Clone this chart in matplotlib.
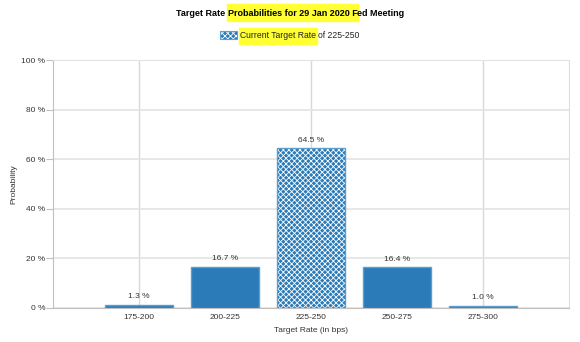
import matplotlib.pyplot as plt
from matplotlib.patches import Rectangle

plt.rcParams['font.family'] = ['Liberation Sans', 'DejaVu Sans']
plt.rcParams['hatch.linewidth'] = 0.6

CATEGORIES = ["175-200", "200-225", "225-250", "250-275", "275-300"]
PROBS = [1.3, 16.7, 64.5, 16.4, 1.0]
CURRENT = "225-250"
Y_TICKS = [0, 20, 40, 60, 80, 100]

BAR_COLOR = "#2b7bb9"
EDGE_COLOR = "#5a9fd0"
GRID_COLOR = "#e3e3e3"
HIGHLIGHT = "#ffff33"
HATCH = "xxxxxx"

fig = plt.figure(figsize=(5.8, 3.42), dpi=100)
ax = fig.add_axes([53 / 580, 34 / 342, 516 / 580, 248 / 342])

x = list(range(len(CATEGORIES)))
for i, (cat, p) in enumerate(zip(CATEGORIES, PROBS)):
    if cat == CURRENT:
        ax.bar(i, p, width=0.8, color=BAR_COLOR, edgecolor="white",
               hatch=HATCH, linewidth=0, zorder=3)
        ax.bar(i, p, width=0.8, fill=False, edgecolor=EDGE_COLOR,
               linewidth=1, zorder=4)
    else:
        ax.bar(i, p, width=0.8, color=BAR_COLOR, edgecolor=EDGE_COLOR,
               linewidth=1, zorder=3)
    ax.text(i, p + 1.8, "%.1f %%" % p, ha="center", va="bottom",
            fontsize=6, color="#333333")

ax.set_xlim(-1, len(CATEGORIES))
ax.set_ylim(0, 100)
ax.set_xticks(x)
ax.set_xticklabels(CATEGORIES)
ax.set_yticks(Y_TICKS)
ax.set_yticklabels(["%d %%" % t for t in Y_TICKS])
ax.tick_params(axis="x", length=0, labelsize=6, pad=4, colors="#333333")
ax.tick_params(axis="y", length=5, width=0.8, color="#c0c0c0",
               labelsize=6, pad=0.5, labelcolor="#333333")

ax.yaxis.grid(True, color=GRID_COLOR, linewidth=1.2, zorder=0)
ax.vlines(x[::2], 0, 100, color="#d8d8d8", linewidth=1, zorder=1)

for side in ["left", "bottom"]:
    ax.spines[side].set_color("#c0c0c0")
ax.spines["right"].set_color("#dddddd")
ax.spines["top"].set_color(GRID_COLOR)

ax.set_xlabel("Target Rate (in bps)", fontsize=6, color="#333333", labelpad=5)
ax.set_ylabel("Probability", fontsize=6, color="#333333")
ax.yaxis.set_label_coords(-36 / 516, 0.5)

renderer = fig.canvas.get_renderer()
inv = fig.transFigure.inverted()


def width_of(txt):
    bb = txt.get_window_extent(renderer)
    return bb.x0, bb.x1


def space_width(size, weight):
    a = fig.text(0, 0, "a a", fontsize=size, fontweight=weight)
    b = fig.text(0, 0, "aa", fontsize=size, fontweight=weight)
    w = (a.get_window_extent(renderer).width
         - b.get_window_extent(renderer).width)
    a.remove()
    b.remove()
    return w


def chain(pieces, x0, y, size, weight, color):
    # pieces: list of (text, gap_before, highlighted)
    sp = space_width(size, weight)
    xpix = x0 * fig.bbox.width
    for s, gap, hl in pieces:
        xpix += sp if gap else 0
        t = fig.text(xpix / fig.bbox.width, y, s, ha="left", va="baseline",
                     fontsize=size, fontweight=weight, color=color, zorder=2)
        x_a, x_b = width_of(t)
        if hl:
            fig.patches.append(Rectangle(
                ((x_a - 1) / 580, hl[0]), (x_b - x_a + 2) / 580, hl[1],
                transform=fig.transFigure, color=HIGHLIGHT, zorder=0))
        xpix = x_b


# title, with the highlighter mark over its middle part
chain([("Target Rate", False, None),
       ("Probabilities for 29 Jan 2020 F", True, (1 - 21 / 342, 17 / 342)),
       ("ed Meeting", False, None)],
      176 / 580, 1 - 16 / 342, 6.5, "bold", "black")

# legend
fig.patches.append(Rectangle((220 / 580, 1 - 39 / 342), 17 / 580, 8 / 342,
                             transform=fig.transFigure, facecolor=BAR_COLOR,
                             edgecolor="white", hatch=HATCH, linewidth=0))
fig.patches.append(Rectangle((220 / 580, 1 - 39 / 342), 17 / 580, 8 / 342,
                             transform=fig.transFigure, fill=False,
                             edgecolor=EDGE_COLOR, linewidth=0.8))
chain([("Current Target Rate", False, (1 - 44 / 342, 16 / 342)),
       ("of " + CURRENT, True, None)],
      240 / 580, 1 - 38 / 342, 6.2, "normal", "#222222")

fig.savefig("out.png", dpi=100)
